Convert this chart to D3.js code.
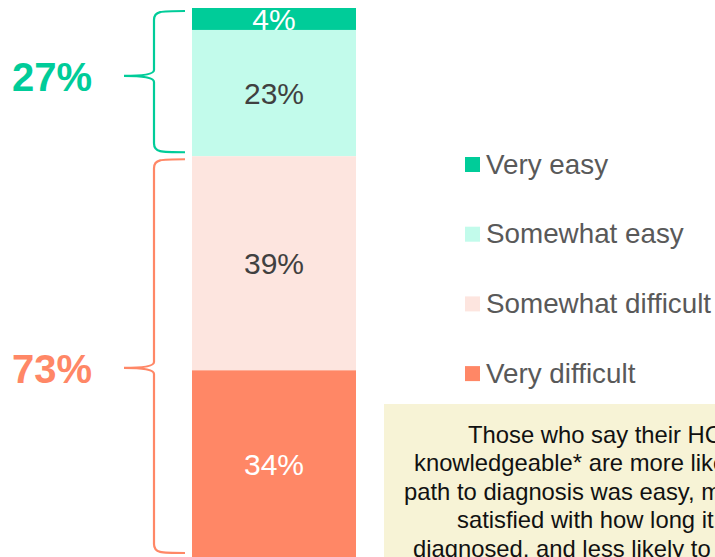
<!DOCTYPE html>
<html>
<head>
<meta charset="utf-8">
<script src="https://cdn.jsdelivr.net/npm/d3@7"></script>
<style>
  html, body { margin: 0; padding: 0; background: #fff; }
  svg { display: block; font-family: "Liberation Sans", Arial, sans-serif; }
</style>
</head>
<body>
<svg id="chart" width="715" height="557"></svg>
<script>
// ---- data ----
const categories = ["Very easy", "Somewhat easy", "Somewhat difficult", "Very difficult"];
const values = [4, 23, 39, 34];
const colors = ["#00CC99", "#C2FBEB", "#FDE5DF", "#FF8766"];
const labelColors = ["#FFFFFF", "#404040", "#404040", "#FFFFFF"];
const groupLabels = ["27%", "73%"];
const groupColors = ["#00CC99", "#FF8766"];
const groupRanges = [[73, 100], [0, 73]];
const noteLines = [
  "Those who say their HCP is very",
  "knowledgeable* are more likely to say",
  "path to diagnosis was easy, more",
  "satisfied with how long it took to get",
  "diagnosed, and less likely to say they"
];
const noteStarts = [468, 414, 404, 457, 413];

// ---- scales ----
const svg = d3.select("#chart");
const y = d3.scaleLinear().domain([0, 100]).range([557, 8]);
const x = d3.scaleBand().domain(["all"]).range([192, 356]).padding(0);

// stacked from top: Very easy at top
let cum = 100;
const segs = categories.map((c, i) => {
  const top = cum, bottom = cum - values[i];
  cum = bottom;
  return { cat: c, value: values[i], top, bottom, i };
});

const g = svg.append("g");
segs.forEach(s => {
  g.append("rect")
    .attr("x", x("all"))
    .attr("width", x.bandwidth())
    .attr("y", y(s.top))
    .attr("height", y(s.bottom) - y(s.top))
    .attr("fill", colors[s.i]);
  g.append("text")
    .attr("x", x("all") + x.bandwidth() / 2)
    .attr("y", (y(s.top) + y(s.bottom)) / 2 + 11)
    .attr("text-anchor", "middle")
    .attr("font-size", 30)
    .attr("fill", labelColors[s.i])
    .text(s.value + "%");
});

// ---- braces ----
function bracePath(y0, y1, ym) {
  const xe = 185, xv = 154, xt = 124;
  return `M${xe},${y0} C${xv + 6},${y0} ${xv},${y0} ${xv},${y0 + 9}` +
         ` L${xv},${ym - 6} Q${xv},${ym} ${xt},${ym}` +
         ` Q${xv},${ym} ${xv},${ym + 6}` +
         ` L${xv},${y1 - 9} C${xv},${y1} ${xv + 6},${y1} ${xe},${y1}`;
}
const tipFrac = [0.46, 0.53];
groupRanges.forEach((r, i) => {
  const y0 = y(r[1]) + 3, y1 = y(r[0]) - 4;
  const ym = y0 + (y1 - y0) * tipFrac[i];
  svg.append("path")
    .attr("d", bracePath(y0, y1, ym))
    .attr("fill", "none")
    .attr("stroke", groupColors[i])
    .attr("stroke-width", 2.2);
  svg.append("text")
    .attr("x", 52)
    .attr("y", ym + 15)
    .attr("text-anchor", "middle")
    .attr("font-size", 40)
    .attr("font-weight", "bold")
    .attr("fill", groupColors[i])
    .text(groupLabels[i]);
});

// ---- legend ----
const leg = svg.append("g");
categories.forEach((c, i) => {
  const cy = 164.5 + i * 69.7;
  leg.append("rect")
    .attr("x", 465).attr("y", cy - 7.5)
    .attr("width", 15).attr("height", 15)
    .attr("fill", colors[i]);
  leg.append("text")
    .attr("x", 486).attr("y", cy + 9)
    .attr("font-size", 27.8)
    .attr("fill", "#595959")
    .text(c);
});

// ---- note box ----
svg.append("rect")
  .attr("x", 384).attr("y", 404)
  .attr("width", 400).attr("height", 200)
  .attr("fill", "#F7F3D6");
noteLines.forEach((t, i) => {
  svg.append("text")
    .attr("x", noteStarts[i])
    .attr("y", 442.7 + i * 28.5)
    .attr("font-size", 23.8)
    .attr("fill", "#111111")
    .text(t);
});
</script>
</body>
</html>
